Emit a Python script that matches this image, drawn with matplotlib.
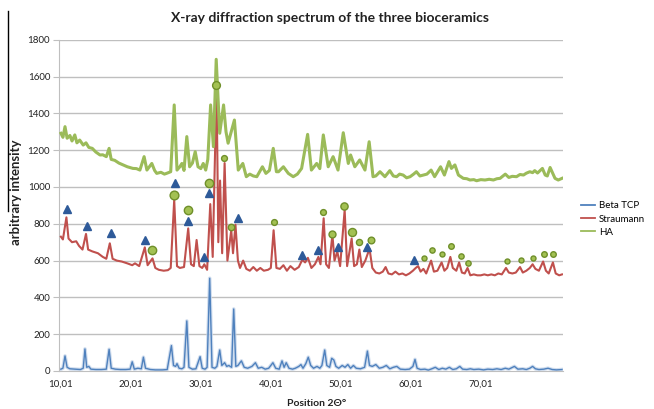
import matplotlib
matplotlib.use("Agg")
import matplotlib.pyplot as plt
from matplotlib.lines import Line2D

# ---------------- data ----------------
title = "X-ray diffraction spectrum of the three bioceramics"
x_label = "Position 2Θ°"
y_label = "arbitrary intensity"
series_names = ["Beta TCP", "Straumann", "HA"]
x_ticks = [10.01, 20.01, 30.01, 40.01, 50.01, 60.01, 70.01]
x_tick_labels = ["10,01", "20,01", "30,01", "40,01", "50,01", "60,01", "70,01"]
y_ticks = [0, 200, 400, 600, 800, 1000, 1200, 1400, 1600, 1800]

tcp_x = [10.01, 10.3, 10.6, 10.9, 11.3, 12.0, 12.8, 13.2, 13.45, 13.7, 14.0, 14.3, 15.0, 15.8,
         16.5, 16.9, 17.2, 17.8, 18.5, 19.3, 19.9, 20.2, 20.5, 21.0, 21.5, 21.8, 22.1, 22.8,
         23.5, 24.5, 25.2, 25.8, 26.1, 26.4, 26.6, 26.9, 27.3, 27.6, 28.0, 28.3, 28.8, 29.3,
         29.9, 30.2, 30.6, 30.9, 31.27, 31.6, 32.0, 32.3, 32.7, 33.0, 33.4, 33.7, 34.0, 34.4,
         34.7, 35.0, 35.3, 35.8, 36.2, 36.7, 37.3, 37.8, 38.2, 38.7, 39.2, 39.7, 40.3, 40.7,
         41.2, 41.6, 41.9, 42.2, 42.6, 43.1, 43.5, 44.0, 44.3, 44.6, 45.0, 45.35, 45.7, 46.1,
         46.6, 47.0, 47.3, 47.7, 48.0, 48.4, 48.7, 49.0, 49.3, 49.7, 50.2, 50.6, 51.0, 51.4,
         51.8, 52.2, 52.8, 53.4, 53.8, 54.1, 54.5, 55.0, 55.5, 56.0, 56.5, 57.0, 57.5, 58.0,
         58.5, 59.2, 59.8, 60.3, 60.6, 60.9, 61.4, 62.0, 62.5, 63.0, 63.5, 64.0, 64.5, 65.0,
         65.5, 66.0, 66.5, 67.0, 67.4, 68.0, 68.5, 69.0, 69.7, 70.4, 71.0, 71.7, 72.3, 72.9,
         73.5, 74.0, 74.8, 75.3, 76.0, 76.5, 77.0, 77.4, 77.8, 78.3, 79.0, 79.6, 80.2, 80.8, 81.6]
tcp_y = [10, 15, 82, 20, 12, 10, 8, 15, 120, 20, 25, 10, 8, 8,
         10, 118, 15, 10, 8, 8, 10, 50, 10, 15, 12, 75, 15, 8,
         6, 6, 8, 138, 30, 25, 40, 15, 12, 20, 272, 20, 10, 12,
         78, 15, 10, 20, 504, 20, 15, 25, 114, 30, 45, 25, 30, 20,
         337, 25, 30, 55, 20, 15, 25, 45, 15, 20, 10, 15, 45, 15,
         10, 55, 20, 45, 15, 10, 15, 25, 35, 15, 40, 75, 30, 15,
         25, 15, 30, 114, 30, 20, 69, 60, 25, 15, 30, 20, 35, 15,
         30, 15, 12, 20, 108, 30, 25, 35, 15, 20, 30, 12, 20, 25,
         10, 8, 10, 25, 63, 15, 8, 10, 5, 12, 20, 8, 15, 10,
         20, 8, 12, 25, 10, 8, 12, 8, 10, 6, 10, 8, 12, 8,
         15, 10, 25, 10, 12, 8, 15, 25, 12, 8, 10, 15, 8, 6, 8]

str_x = [10.01, 10.3, 10.8, 11.1, 11.6, 12.2, 12.6, 13.1, 13.6, 13.9, 14.5, 15.3, 16.0, 16.5,
         17.0, 17.4, 18.0, 18.7, 19.5, 20.2, 20.6, 21.2, 22.0, 22.4, 23.1, 23.5, 24.0, 24.7,
         25.3, 25.7, 26.2, 26.6, 27.0, 27.6, 28.2, 28.6, 29.0, 29.4, 29.8, 30.2, 30.5, 30.9,
         31.35, 31.7, 32.25, 32.5, 32.75, 33.05, 33.4, 33.8, 34.35, 34.6, 34.95, 35.3, 35.6,
         36.05, 36.5, 37.0, 37.5, 38.0, 38.5, 39.0, 39.6, 40.0, 40.4, 40.8, 41.3, 41.8, 42.3,
         42.8, 43.4, 44.0, 44.5, 44.9, 45.3, 45.8, 46.3, 46.8, 47.1, 47.55, 47.9, 48.3, 48.8,
         49.1, 49.5, 49.9, 50.55, 50.9, 51.55, 51.9, 52.3, 52.65, 53.0, 53.5, 54.1, 54.5, 55.0,
         55.5, 56.0, 56.4, 56.8, 57.3, 57.8, 58.3, 58.8, 59.3, 59.8, 60.3, 60.7, 61.05, 61.4,
         61.8, 62.2, 62.9, 63.3, 63.8, 64.4, 64.8, 65.2, 65.65, 66.0, 66.5, 66.9, 67.3, 67.7,
         68.1, 68.5, 69.0, 69.5, 70.0, 70.5, 71.0, 71.5, 72.0, 72.5, 73.0, 73.6, 74.0, 74.5,
         75.0, 75.6, 76.0, 76.5, 77.0, 77.4, 77.8, 78.3, 78.9, 79.3, 79.7, 80.3, 80.7, 81.2, 81.6]
str_y = [730, 715, 835, 720, 700, 705, 680, 660, 745, 660, 650, 640, 620, 610,
         694, 610, 600, 595, 585, 575, 585, 570, 672, 575, 612, 560, 550, 545,
         548, 560, 930, 570, 560, 565, 775, 580, 570, 712, 570, 560, 580, 550,
         907, 620, 1554, 700, 1035, 640, 1130, 600, 765, 640, 795, 600, 560,
         600, 555, 545, 565, 545, 560, 545, 550, 560, 765, 560, 555, 575, 545,
         570, 550, 565, 605, 590, 615, 560, 580, 620, 580, 830, 580, 560, 740,
         600, 650, 570, 875, 570, 720, 570, 580, 660, 565, 600, 665, 560, 535,
         530, 540, 565, 530, 525, 540, 525, 530, 520, 530, 545, 560, 570, 540,
         555, 530, 600, 540, 545, 590, 545, 560, 620, 560, 545, 590, 535, 530,
         560, 520, 525, 520, 520, 525, 520, 525, 520, 530, 525, 560, 535, 530,
         535, 565, 535, 545, 560, 580, 555, 545, 595, 545, 530, 590, 530, 520, 525]

ha_x = [10.01, 10.3, 10.6, 10.9, 11.3, 11.6, 12.0, 12.3, 12.7, 13.2, 13.6, 14.0, 14.5, 15.0,
        15.6, 16.0, 16.5, 16.9, 17.2, 17.7, 18.3, 18.9, 19.5, 20.3, 20.8, 21.3, 21.9, 22.3,
        23.0, 23.4, 23.7, 24.3, 24.8, 25.1, 25.7, 26.2, 26.6, 27.0, 27.3, 27.6, 28.0, 28.4,
        28.8, 29.2, 29.6, 30.0, 30.35, 30.7, 31.0, 31.4, 31.8, 32.2, 32.7, 33.25, 33.6, 33.9,
        34.8, 35.35, 36.0, 36.5, 37.0, 37.5, 38.0, 38.8, 39.3, 39.8, 40.35, 40.8, 41.1, 41.8,
        42.5, 43.2, 43.8, 44.4, 45.26, 45.8, 46.55, 47.0, 47.5, 48.2, 48.9, 49.6, 50.35, 51.07,
        51.4, 52.0, 52.7, 53.45, 54.05, 54.6, 55.0, 55.6, 56.3, 57.0, 57.5, 57.97, 58.4, 58.9,
        59.4, 59.9, 60.4, 60.8, 61.3, 61.8, 62.3, 62.9, 63.4, 64.25, 64.8, 65.45, 65.8, 66.3,
        66.8, 67.5, 68.0, 68.45, 69.0, 69.4, 70.0, 70.6, 71.2, 71.8, 72.3, 72.75, 73.5, 74.0,
        74.5, 75.1, 75.6, 76.1, 76.5, 77.0, 77.4, 77.7, 78.1, 78.8, 79.2, 79.5, 79.9, 80.6,
        81.06, 81.6]
ha_y = [1292, 1270, 1328, 1265, 1280, 1250, 1283, 1240, 1255, 1228, 1240, 1215, 1210, 1190,
        1174, 1175, 1165, 1210, 1150, 1145, 1130, 1120, 1110, 1101, 1100, 1092, 1165, 1092,
        1128, 1090, 1074, 1080, 1070, 1074, 1083, 1446, 1092, 1110, 1128, 1090, 1274, 1110,
        1130, 1192, 1110, 1100, 1128, 1092, 1150, 1446, 1219, 1694, 1292, 1446, 1300, 1238,
        1364, 1092, 1128, 1056, 1070, 1060, 1056, 1110, 1074, 1090, 1210, 1083, 1083, 1110,
        1074, 1056, 1070, 1101, 1286, 1092, 1128, 1100, 1283, 1110, 1165, 1092, 1295, 1128,
        1174, 1110, 1147, 1092, 1246, 1056, 1060, 1083, 1056, 1089, 1060, 1056, 1070, 1065,
        1050, 1056, 1070, 1083, 1060, 1065, 1070, 1092, 1056, 1110, 1065, 1138, 1101, 1120,
        1065, 1047, 1045, 1038, 1040, 1034, 1040, 1038, 1042, 1038, 1045, 1047, 1070, 1052,
        1058, 1056, 1068, 1065, 1075, 1083, 1078, 1089, 1076, 1101, 1065, 1060, 1106, 1047,
        1038, 1047]

# Beta TCP reflections marked on the Straumann pattern (triangles)
tcp_marker_x = [10.83, 13.75, 17.13, 21.98, 26.25, 28.15, 30.42, 31.2, 35.35, 44.4, 46.8, 49.65, 53.7, 60.5]
tcp_marker_y = [879, 790, 751, 712, 1022, 815, 617, 966, 830, 630, 655, 672, 672, 605]
# HA reflections marked on the Straumann pattern (circles)
ha_marker_x = [23.05, 26.2, 28.2, 31.2, 32.1, 33.35, 34.25, 40.4, 47.4, 48.8, 50.45, 51.6, 52.65,
               54.3, 61.9, 63.05, 64.5, 65.7, 67.1, 68.2, 73.7, 75.7, 77.4, 79.0, 80.35]
ha_marker_y = [658, 957, 875, 1024, 1554, 1156, 781, 808, 866, 745, 898, 757, 703,
               712, 612, 658, 634, 681, 627, 585, 600, 605, 612, 637, 637]

# ---------------- styling ----------------
W, H = 654, 409
fig = plt.figure(figsize=(W / 100, H / 100), dpi=100)
ax = fig.add_axes([58.5 / W, 1 - 371 / H, (562.5 - 58.5) / W, (371 - 39.8) / H])

FONT = ["Lato", "DejaVu Sans"]
c_tcp = "#4f81bd"
c_str = "#c0504d"
c_ha = "#9bbb59"
grid_c = "#bfbfbf"

ax.set_xlim(9.67, 81.67)
ax.set_ylim(0, 1800)

for v in y_ticks[1:]:
    ax.axhline(v, color=grid_c, lw=1.0, zorder=0)

ax.plot(tcp_x, tcp_y, color="#c5d5ea", lw=2.6, alpha=0.8, zorder=2, solid_joinstyle="round")
ax.plot(tcp_x, tcp_y, color=c_tcp, lw=1.0, zorder=3, label=series_names[0])
ax.plot(str_x, str_y, color=c_str, lw=1.5, zorder=3, label=series_names[1])
ax.plot(ha_x, ha_y, color=c_ha, lw=2.2, zorder=3, label=series_names[2])

ax.plot(tcp_marker_x, tcp_marker_y, linestyle="none", marker="^", ms=5.2,
        mfc="#2e5a99", mec="#2e5a99", zorder=5)
ha_sizes = [6.0, 6.3, 6.0, 6.0, 5.6, 4.2, 4.6, 4.2, 4.2, 5.0, 5.2, 5.8, 4.4,
            4.8, 3.6, 3.8, 3.6, 4.0, 3.8, 3.8, 3.6, 3.6, 3.6, 4.0, 4.0]
for x, y, s in zip(ha_marker_x, ha_marker_y, ha_sizes):
    ax.plot([x], [y], linestyle="none", marker="o", ms=s, mfc="#a3c153",
            mec="#6f8f2a", mew=1.0, zorder=6)

for side in ["top", "right"]:
    ax.spines[side].set_visible(False)
ax.spines["left"].set_color(grid_c)
ax.spines["bottom"].set_color(grid_c)

ax.set_xticks(x_ticks)
ax.set_xticklabels(x_tick_labels, fontfamily=FONT, fontsize=7)
ax.set_yticks(y_ticks)
ax.set_yticklabels([str(v) for v in y_ticks], fontfamily=FONT, fontsize=7)
ax.tick_params(axis="x", length=0, pad=6, colors="#222222")
ax.tick_params(axis="y", length=4, color=grid_c, pad=2, colors="#222222")
ax.tick_params(axis="y", color=grid_c)

fig.text(330 / W, 1 - 18 / H, title, ha="center", va="center", fontsize=10,
         fontweight="bold", family=FONT, color="#222222")
fig.text(16 / W, 1 - 192 / H, y_label, ha="center", va="center", rotation=90,
         fontsize=9.5, fontweight="bold", family=FONT, color="#222222")
fig.text(317 / W, 1 - 407.5 / H, x_label, ha="center", va="bottom", fontsize=7.5,
         fontweight="bold", family=FONT, color="#222222")

fig.add_artist(Line2D([8 / W, 8 / W], [1 - 11 / H, 1 - 211 / H], color="black", lw=1.0))

handles = [Line2D([], [], color=c_tcp, lw=1.3), Line2D([], [], color=c_str, lw=1.3),
           Line2D([], [], color=c_ha, lw=1.3)]
fig.legend(handles, series_names, loc="center left", bbox_to_anchor=(572 / W, 1 - 219 / H),
           frameon=False, handlelength=1.5, handletextpad=0.35, labelspacing=0.45,
           prop={"family": FONT, "size": 7})

fig.savefig("out.png", dpi=100)
